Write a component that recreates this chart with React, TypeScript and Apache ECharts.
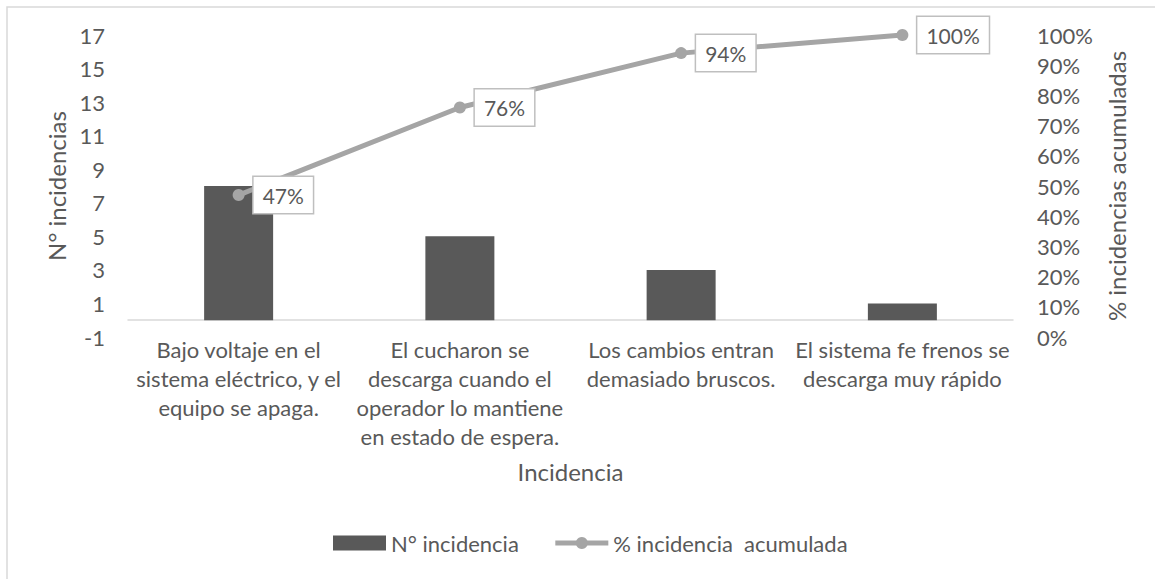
import React, { useEffect, useRef } from "react";
import * as echarts from "echarts";

const categories = [
  "Bajo voltaje en el\nsistema eléctrico, y el\nequipo se apaga.",
  "El cucharon se\ndescarga cuando el\noperador lo mantiene\nen estado de espera.",
  "Los cambios entran\ndemasiado bruscos.",
  "El sistema fe frenos se\ndescarga muy rápido",
];
const incidencias = [8, 5, 3, 1];
const acumulada = [0.47, 0.76, 0.94, 1.0];

const FONT = "Lato";
const TXT = "#595959";

export default function App() {
  const ref = useRef<HTMLDivElement>(null);
  useEffect(() => {
    if (!ref.current) return;
    const chart = echarts.init(ref.current, null, { renderer: "svg" });
    chart.setOption({
      animation: false,
      textStyle: { fontFamily: FONT, color: TXT },
      graphic: [
        {
          type: "rect",
          shape: { x: 7, y: 7, width: 1170, height: 620 },
          style: { fill: "none", stroke: "#d9d9d9", lineWidth: 1.5 },
          silent: true,
          z: -1,
        },
      ],
      grid: { left: 128, right: 142, top: 35, bottom: 242 },
      legend: {
        left: 328,
        top: 527,
        itemWidth: 53,
        itemHeight: 15,
        itemGap: 34,
        textStyle: { fontFamily: FONT, fontSize: 22, color: TXT },
        data: [
          { name: "N° incidencia", icon: "rect" },
          {
            name: "% incidencia  acumulada",
            lineStyle: { width: 5, color: "#a5a5a5" },
            itemStyle: { color: "#a5a5a5" },
          },
        ],
      },
      xAxis: {
        type: "category",
        data: categories,
        name: "Incidencia",
        nameLocation: "middle",
        nameGap: 122,
        nameMoveOverlap: false,
        nameTextStyle: { fontFamily: FONT, fontSize: 24, color: TXT },
        axisLine: {
          onZero: true,
          onZeroAxisIndex: 0,
          lineStyle: { color: "#d9d9d9", width: 1.5 },
        },
        axisTick: { show: false },
        axisLabel: {
          interval: 0,
          margin: -2,
          fontFamily: FONT,
          fontSize: 22,
          lineHeight: 29,
          color: TXT,
          align: "center",
        },
      },
      yAxis: [
        {
          type: "value",
          min: -1,
          max: 17,
          interval: 1,
          name: "N° incidencias",
          nameLocation: "middle",
          nameRotate: 90,
          nameGap: 60,
          nameTextStyle: { fontFamily: FONT, fontSize: 24, color: TXT },
          axisLine: { show: false },
          axisTick: { show: false },
          splitLine: { show: false },
          axisLabel: {
            margin: 23,
            fontFamily: FONT,
            fontSize: 22,
            color: TXT,
            formatter: (v: number) =>
              Math.abs(Math.round(v)) % 2 === 1 ? String(Math.round(v)) : "",
          },
        },
        {
          type: "value",
          min: 0,
          max: 1,
          interval: 0.1,
          name: "% incidencias acumuladas",
          nameLocation: "middle",
          nameRotate: 90,
          nameGap: 91,
          nameTextStyle: { fontFamily: FONT, fontSize: 24, color: TXT },
          axisLine: { show: false },
          axisTick: { show: false },
          splitLine: { show: false },
          axisLabel: {
            margin: 24,
            fontFamily: FONT,
            fontSize: 22,
            color: TXT,
            formatter: (v: number) => Math.round(v * 100) + "%",
          },
        },
      ],
      series: [
        {
          name: "N° incidencia",
          type: "bar",
          yAxisIndex: 0,
          barWidth: 69,
          data: incidencias,
          itemStyle: { color: "#595959" },
        },
        {
          name: "% incidencia  acumulada",
          type: "line",
          yAxisIndex: 1,
          data: acumulada,
          symbol: "circle",
          symbolSize: 12,
          lineStyle: { color: "#a5a5a5", width: 5 },
          itemStyle: { color: "#a5a5a5" },
          z: 3,
          label: {
            show: true,
            position: "right",
            distance: 9,
            formatter: (p: any) => Math.round(p.value * 100) + "%",
            fontFamily: FONT,
            fontSize: 21,
            color: TXT,
            backgroundColor: "#ffffff",
            borderColor: "#bfbfbf",
            borderWidth: 1.5,
            padding: [8, 9, 7, 9],
          },
        },
      ],
    });
    return () => chart.dispose();
  }, []);
  return (
    <div
      ref={ref}
      style={{ position: "fixed", left: 0, top: 0, width: 1155, height: 579, background: "#fff" }}
    />
  );
}
